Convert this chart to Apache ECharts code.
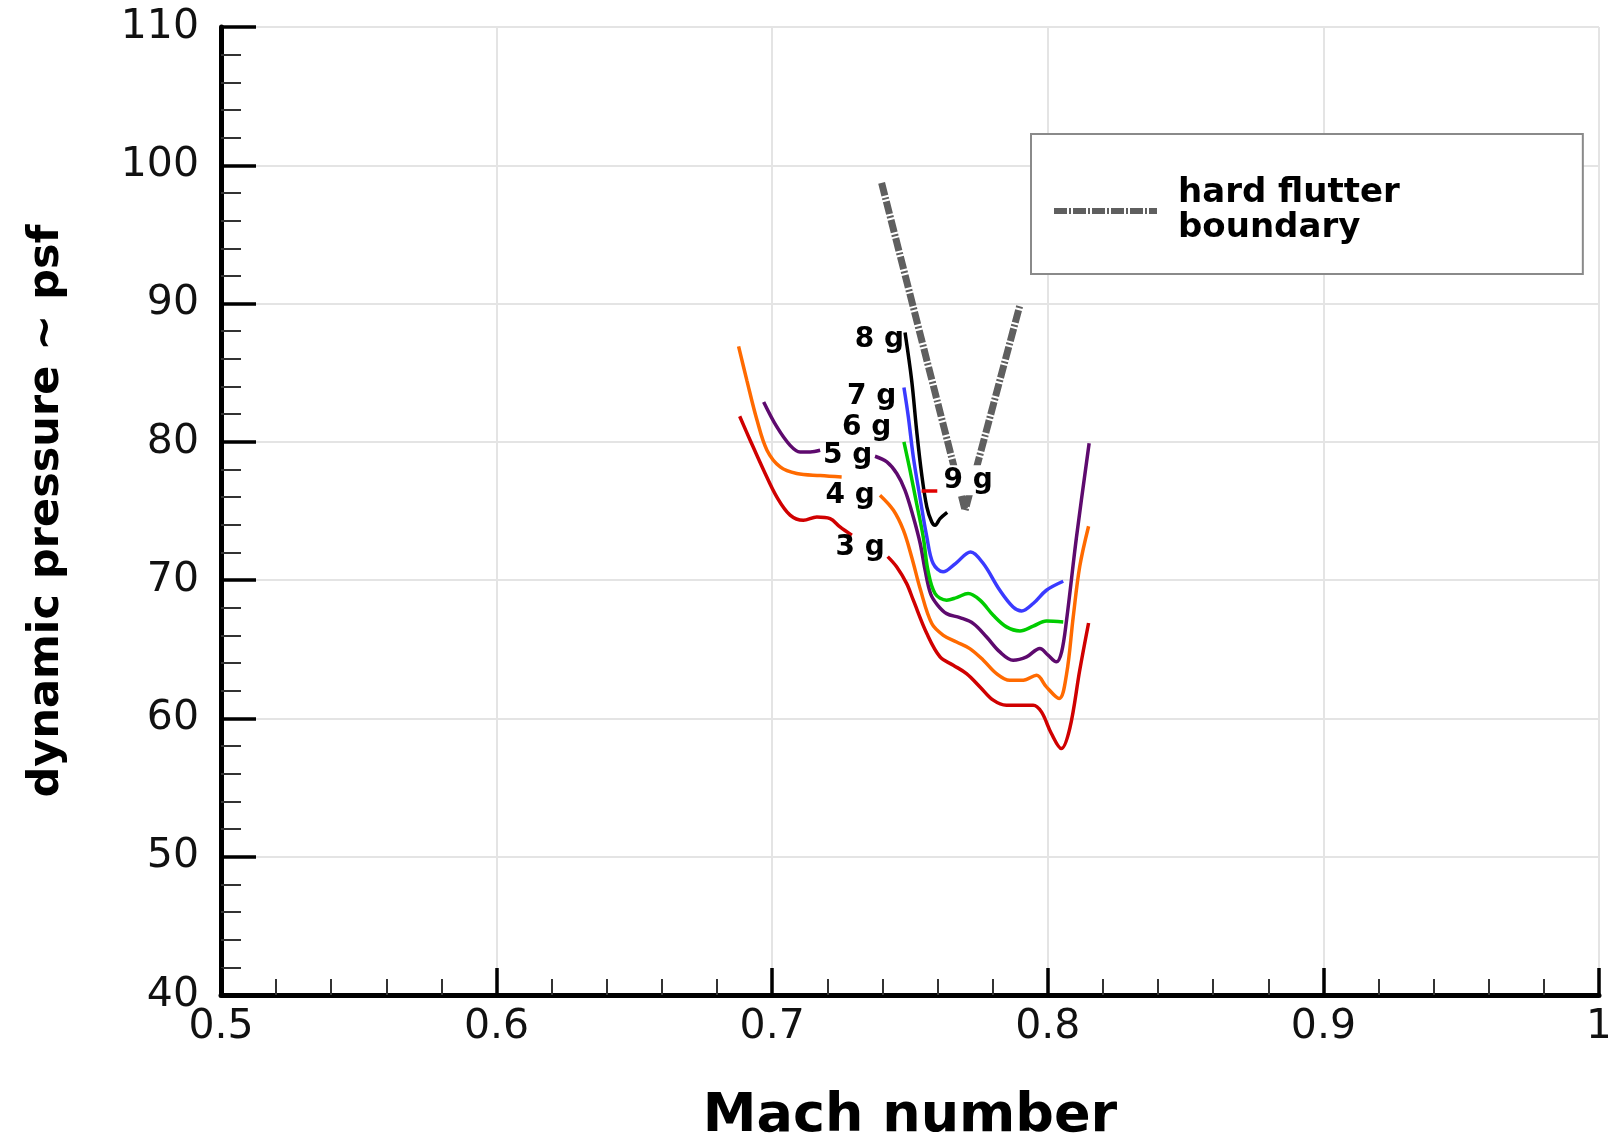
<!DOCTYPE html>
<html>
<head>
<meta charset="utf-8">
<script src="https://cdn.jsdelivr.net/npm/echarts@6/dist/echarts.min.js"></script>
<style>html,body{margin:0;padding:0;background:#fff;}#c{width:1608px;height:1135px;}</style>
</head>
<body>
<div id="c"></div>
<script>
// ---- tick labels ----
const xTickLabels = ['0.5', '0.6', '0.7', '0.8', '0.9', '1'];
const yTickLabels = ['40', '50', '60', '70', '80', '90', '100', '110'];

// ---- series values [Mach, q] ----
const g3a = [[0.6882,81.85],[0.6920,80.12],[0.6969,77.95],[0.7017,76.0],[0.7065,74.7],[0.7113,74.33],[0.7162,74.57],[0.7210,74.45],[0.7246,73.85],[0.7289,73.25]];
const g3b = [[0.7419,71.7],[0.7452,70.95],[0.7488,69.75],[0.7512,68.55],[0.7561,66.14],[0.7609,64.45],[0.7657,63.85],[0.7705,63.24],[0.7754,62.28],[0.7802,61.32],[0.7850,60.96],[0.7899,60.96],[0.7947,60.96],[0.7977,60.47],[0.8013,58.91],[0.8049,57.82],[0.8080,59.3],[0.8116,63.5],[0.8148,66.9]];
const g4a = [[0.6878,86.91],[0.6908,84.45],[0.6945,81.56],[0.6981,79.4],[0.7029,78.19],[0.7089,77.71],[0.7174,77.56],[0.7252,77.46]];
const g4b = [[0.7391,76.14],[0.7440,75.05],[0.7476,73.61],[0.7506,71.68],[0.7538,69.3],[0.7579,66.86],[0.7621,66.01],[0.7669,65.53],[0.7717,65.05],[0.7766,64.21],[0.7814,63.24],[0.7862,62.76],[0.7911,62.76],[0.7959,63.12],[0.7995,62.28],[0.8041,61.44],[0.8068,63.2],[0.8092,67.3],[0.8116,71.0],[0.8148,73.9]];
const g5a = [[0.6969,82.89],[0.7017,81.08],[0.7065,79.75],[0.7101,79.27],[0.7138,79.27],[0.7174,79.39]];
const g5b = [[0.7373,78.96],[0.7416,78.55],[0.7452,77.71],[0.7482,76.5],[0.7512,74.57],[0.7537,72.65],[0.7555,70.7],[0.7575,69.0],[0.7600,68.2],[0.7633,67.58],[0.7681,67.29],[0.7730,66.86],[0.7778,65.89],[0.7826,64.81],[0.7874,64.21],[0.7923,64.45],[0.7971,65.06],[0.8001,64.57],[0.8031,64.09],[0.8050,64.8],[0.8068,67.1],[0.8104,73.1],[0.8150,79.9]];
const g6 = [[0.7478,80.0],[0.7500,77.95],[0.7524,75.54],[0.7548,73.13],[0.7565,70.72],[0.7591,69.03],[0.7633,68.55],[0.7669,68.74],[0.7711,69.03],[0.7754,68.55],[0.7802,67.46],[0.7850,66.62],[0.7899,66.33],[0.7947,66.67],[0.7995,67.05],[0.8056,66.98]];
const g7 = [[0.7478,83.93],[0.7494,81.8],[0.7512,78.91],[0.7536,76.0],[0.7561,73.13],[0.7584,71.2],[0.7620,70.6],[0.7665,71.2],[0.7720,72.04],[0.7766,71.2],[0.7826,69.27],[0.7874,68.06],[0.7905,67.77],[0.7947,68.31],[0.7995,69.27],[0.8056,69.92]];
const g8 = [[0.7482,87.9],[0.7506,84.45],[0.7524,80.84],[0.7542,77.71],[0.7561,75.3],[0.7579,74.2],[0.7591,73.97],[0.7609,74.45],[0.7635,74.9]];
const g9 = [[0.7542,76.45],[0.7599,76.45]];
const boundary = [[0.7397,98.72],[0.7700,75.05],[0.7899,89.9]];

// ---- curve labels ----
const labelTexts = ['8 g', '7 g', '6 g', '5 g', '4 g', '3 g', '9 g'];
const labelPos = [[0.7389,87.35],[0.7361,83.25],[0.7343,81.03],[0.7274,79.03],[0.7283,76.09],[0.7319,72.36],[0.7711,77.22]];

const FONT = 'DejaVu Sans';
const colors = {g3:'#d00000', g4:'#ff6a00', g5:'#5e0a6e', g6:'#00cc00', g7:'#3a3aff', g8:'#000000', g9:'#e00000', bnd:'#5f5f5f'};
const bndDash = [13, 2, 2, 2];

function lineSeries(name, data, color) {
  return {
    type: 'line', name: name, data: data, smooth: 0.35, symbol: 'none', color: color,
    lineStyle: {color: color, width: 3.5}, z: 3, silent: true
  };
}

const chart = echarts.init(document.getElementById('c'), null, {renderer: 'canvas'});
const option = {
  backgroundColor: '#ffffff',
  animation: false,
  grid: {left: 221, right: 9, top: 27, bottom: 140, containLabel: false, outerBoundsMode: 'none'},
  legend: {
    left: 1031, top: 134,
    padding: [42, 183, 28, 20],
    borderColor: '#8a8a8a', borderWidth: 2, backgroundColor: '#fff',
    itemWidth: 103, itemHeight: 14,
    itemStyle: {color: colors.bnd, opacity: 0},
    lineStyle: {color: colors.bnd, width: 6, type: bndDash},
    data: [{name: 'hard flutter\nboundary'}],
    textStyle: {fontFamily: FONT, fontSize: 34, fontWeight: 'bold', color: '#000', lineHeight: 35, padding: [0, 0, 0, 16]}
  },
  xAxis: {
    type: 'value', min: 0.5, max: 1, interval: 0.1,
    name: 'Mach number', nameLocation: 'middle', nameGap: 95,
    nameTextStyle: {fontFamily: FONT, fontSize: 54, fontWeight: 'bold', color: '#000'},
    axisLine: {show: true, onZero: false, lineStyle: {color: '#000', width: 5}},
    axisTick: {show: true, inside: true, length: 27, lineStyle: {color: '#000', width: 3.5}},
    minorTick: {show: true, splitNumber: 5, length: 16, lineStyle: {color: '#333', width: 2}},
    axisLabel: {fontFamily: FONT, fontSize: 41, color: '#111', margin: 12,
      formatter: function (v) { return xTickLabels[Math.round((v - 0.5) / 0.1)]; }},
    splitLine: {show: true, lineStyle: {color: '#e4e4e4', width: 2}}
  },
  yAxis: {
    type: 'value', min: 40, max: 110, interval: 10,
    name: 'dynamic pressure ~ psf', nameLocation: 'middle', nameGap: 153,
    nameTextStyle: {fontFamily: FONT, fontSize: 43, fontWeight: 'bold', color: '#000'},
    axisLine: {show: true, onZero: false, lineStyle: {color: '#000', width: 5}},
    axisTick: {show: true, inside: true, length: 35, lineStyle: {color: '#000', width: 3.5}},
    minorTick: {show: true, splitNumber: 5, length: 20, lineStyle: {color: '#333', width: 2}},
    axisLabel: {fontFamily: FONT, fontSize: 41, color: '#111', margin: 22,
      formatter: function (v) { return yTickLabels[Math.round((v - 40) / 10)]; }},
    splitLine: {show: true, lineStyle: {color: '#e4e4e4', width: 2}}
  },
  series: [
    lineSeries('3 g', g3a, colors.g3),
    lineSeries('3 g', g3b, colors.g3),
    lineSeries('4 g', g4a, colors.g4),
    lineSeries('4 g', g4b, colors.g4),
    lineSeries('5 g', g5a, colors.g5),
    lineSeries('5 g', g5b, colors.g5),
    lineSeries('6 g', g6, colors.g6),
    lineSeries('7 g', g7, colors.g7),
    lineSeries('8 g', g8, colors.g8),
    Object.assign(lineSeries('9 g', g9, colors.g9), {smooth: false}),
    {
      type: 'line', name: 'hard flutter\nboundary', data: boundary, symbol: 'none', smooth: false, z: 2,
      color: colors.bnd, itemStyle: {color: colors.bnd},
      lineStyle: {color: colors.bnd, width: 7, type: bndDash, cap: 'butt'}
    },
    {
      type: 'scatter', name: 'labels', symbolSize: 0, z: 10, silent: true, color: '#000',
      itemStyle: {opacity: 1},
      data: labelPos.map(function (p, i) {
        const item = {value: [p[0], p[1]], name: labelTexts[i]};
        if (labelTexts[i] === '9 g') item.label = {backgroundColor: '#ffffff', padding: [2, 3, 0, 3]};
        return item;
      }),
      label: {show: true, position: 'inside', formatter: function (p) { return p.name; },
        fontFamily: FONT, fontSize: 28, fontWeight: 'bold', color: '#000',
        textBorderWidth: 0, textBorderColor: 'transparent'}
    }
  ]
};
chart.setOption(option);
</script>
</body>
</html>
